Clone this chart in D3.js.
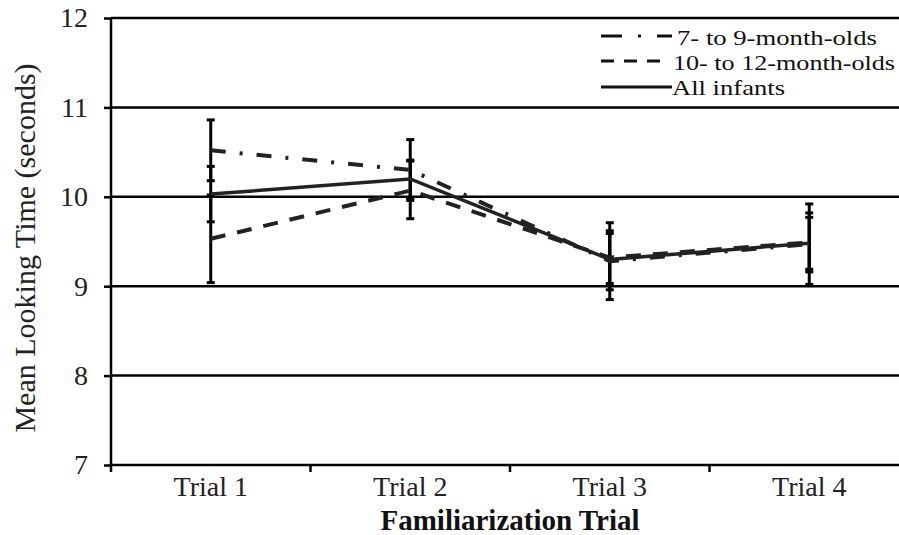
<!DOCTYPE html>
<html><head><meta charset="utf-8">
<script src="https://cdn.jsdelivr.net/npm/d3@7"></script>
<style>body{margin:0;background:#fff}svg{display:block}</style>
</head><body>
<svg id="c" width="899" height="535"></svg>
<script>
const trials = ["Trial 1","Trial 2","Trial 3","Trial 4"];
const yTicks = [7,8,9,10,11,12];
const seriesNames = ["7- to 9-month-olds","10- to 12-month-olds","All infants"];
const young = [10.52, 10.30, 9.28, 9.47];
const youngLow = [10.18, 9.96, 8.85, 9.02];
const youngHigh = [10.86, 10.64, 9.71, 9.92];
const older = [9.53, 10.07, 9.32, 9.49];
const olderLow = [9.04, 9.755, 9.03, 9.16];
const olderHigh = [10.02, 10.40, 9.59, 9.82];
const all = [10.03, 10.20, 9.30, 9.48];
const allLow = [9.72, 9.98, 8.96, 9.19];
const allHigh = [10.34, 10.41, 9.62, 9.77];

const svg = d3.select("#c");
const font = "'Liberation Serif','Times New Roman',serif";
const x = d3.scaleBand().domain(trials).range([111, 909]).padding(0);
const y = d3.scaleLinear().domain([7,12]).range([465, 18]);
const cx = t => x(t) + x.bandwidth()/2;

// gridlines
svg.append("g").selectAll("line").data(yTicks.filter(d=>d>7)).join("line")
  .attr("x1",111).attr("x2",910).attr("y1",d=>y(d)).attr("y2",d=>y(d))
  .attr("stroke","#000").attr("stroke-width",2.5);

// y axis
const ya = svg.append("g").attr("transform","translate(111,0)")
  .call(d3.axisLeft(y).tickValues(yTicks).tickSize(7).tickPadding(16).tickFormat(d3.format("d")));
ya.select(".domain").attr("stroke","#000").attr("stroke-width",2.5).attr("d","M0,18V466");
ya.selectAll(".tick line").attr("stroke","#000").attr("stroke-width",2.5);
ya.selectAll("text").attr("font-family",font).attr("font-size",28).attr("fill","#222");

// x axis
const xa = svg.append("g").attr("transform","translate(0,465)")
  .call(d3.axisBottom(x).tickSize(0).tickPadding(11));
xa.select(".domain").remove();
xa.selectAll("text").attr("font-family",font).attr("font-size",28).attr("fill","#222");
svg.append("line").attr("x1",110).attr("x2",910).attr("y1",y(7)).attr("y2",y(7))
  .attr("stroke","#000").attr("stroke-width",2.5);
svg.append("g").selectAll("line").data(trials).join("line")
  .attr("x1",d=>x(d)).attr("x2",d=>x(d)).attr("y1",465).attr("y2",472)
  .attr("stroke","#000").attr("stroke-width",2.5);

// axis titles
svg.append("text").attr("transform","translate(35,248) rotate(-90)")
  .attr("text-anchor","middle").attr("font-family",font).attr("font-size",30).attr("fill","#222")
  .text("Mean Looking Time (seconds)");
svg.append("text").attr("x",510).attr("y",530).attr("text-anchor","middle")
  .attr("font-family",font).attr("font-size",29).attr("font-weight","bold").attr("fill","#111")
  .text("Familiarization Trial");

// error bars
const errs = [[youngLow,youngHigh],[olderLow,olderHigh],[allLow,allHigh]];
const eg = svg.append("g");
errs.forEach(([lo,hi])=>{
  trials.forEach((t,i)=>{
    eg.append("line").attr("x1",cx(t)).attr("x2",cx(t)).attr("y1",y(lo[i])).attr("y2",y(hi[i]))
      .attr("stroke","#000").attr("stroke-width",3);
    [lo[i],hi[i]].forEach(v=>{
      eg.append("line").attr("x1",cx(t)-4).attr("x2",cx(t)+4).attr("y1",y(v)).attr("y2",y(v))
        .attr("stroke","#000").attr("stroke-width",3);
    });
  });
});

// series lines
const line = d3.line().x((d,i)=>cx(trials[i])).y(d=>y(d));
const styles = [
  {data: young, dash:"15,14,3,14", w:4},
  {data: older, dash:"15,12", w:4},
  {data: all, dash:null, w:3.5}
];
styles.forEach(s=>{
  svg.append("path").datum(s.data).attr("d",line).attr("fill","none")
    .attr("stroke","#222").attr("stroke-width",s.w)
    .attr("stroke-dasharray",s.dash);
});

// legend
const lg = svg.append("g");
const rows = [36, 61, 87];
const base = [44.5, 69.5, 95];
const ldash = ["21,16,3,16","13,10",null];
const lx2 = [672, 660, 672];
const tx = [677, 673, 672];
const tlen = [200, 222, 113];
seriesNames.forEach((n,i)=>{
  lg.append("line").attr("x1",601).attr("x2",lx2[i]).attr("y1",rows[i]).attr("y2",rows[i])
    .attr("stroke","#111").attr("stroke-width",3).attr("stroke-dasharray",ldash[i]);
  lg.append("text").attr("x",tx[i]).attr("y",base[i]).attr("font-family",font)
    .attr("font-size",21.5).attr("textLength",tlen[i]).attr("lengthAdjust","spacingAndGlyphs")
    .attr("fill","#111").text(n);
});
</script>
</body></html>
